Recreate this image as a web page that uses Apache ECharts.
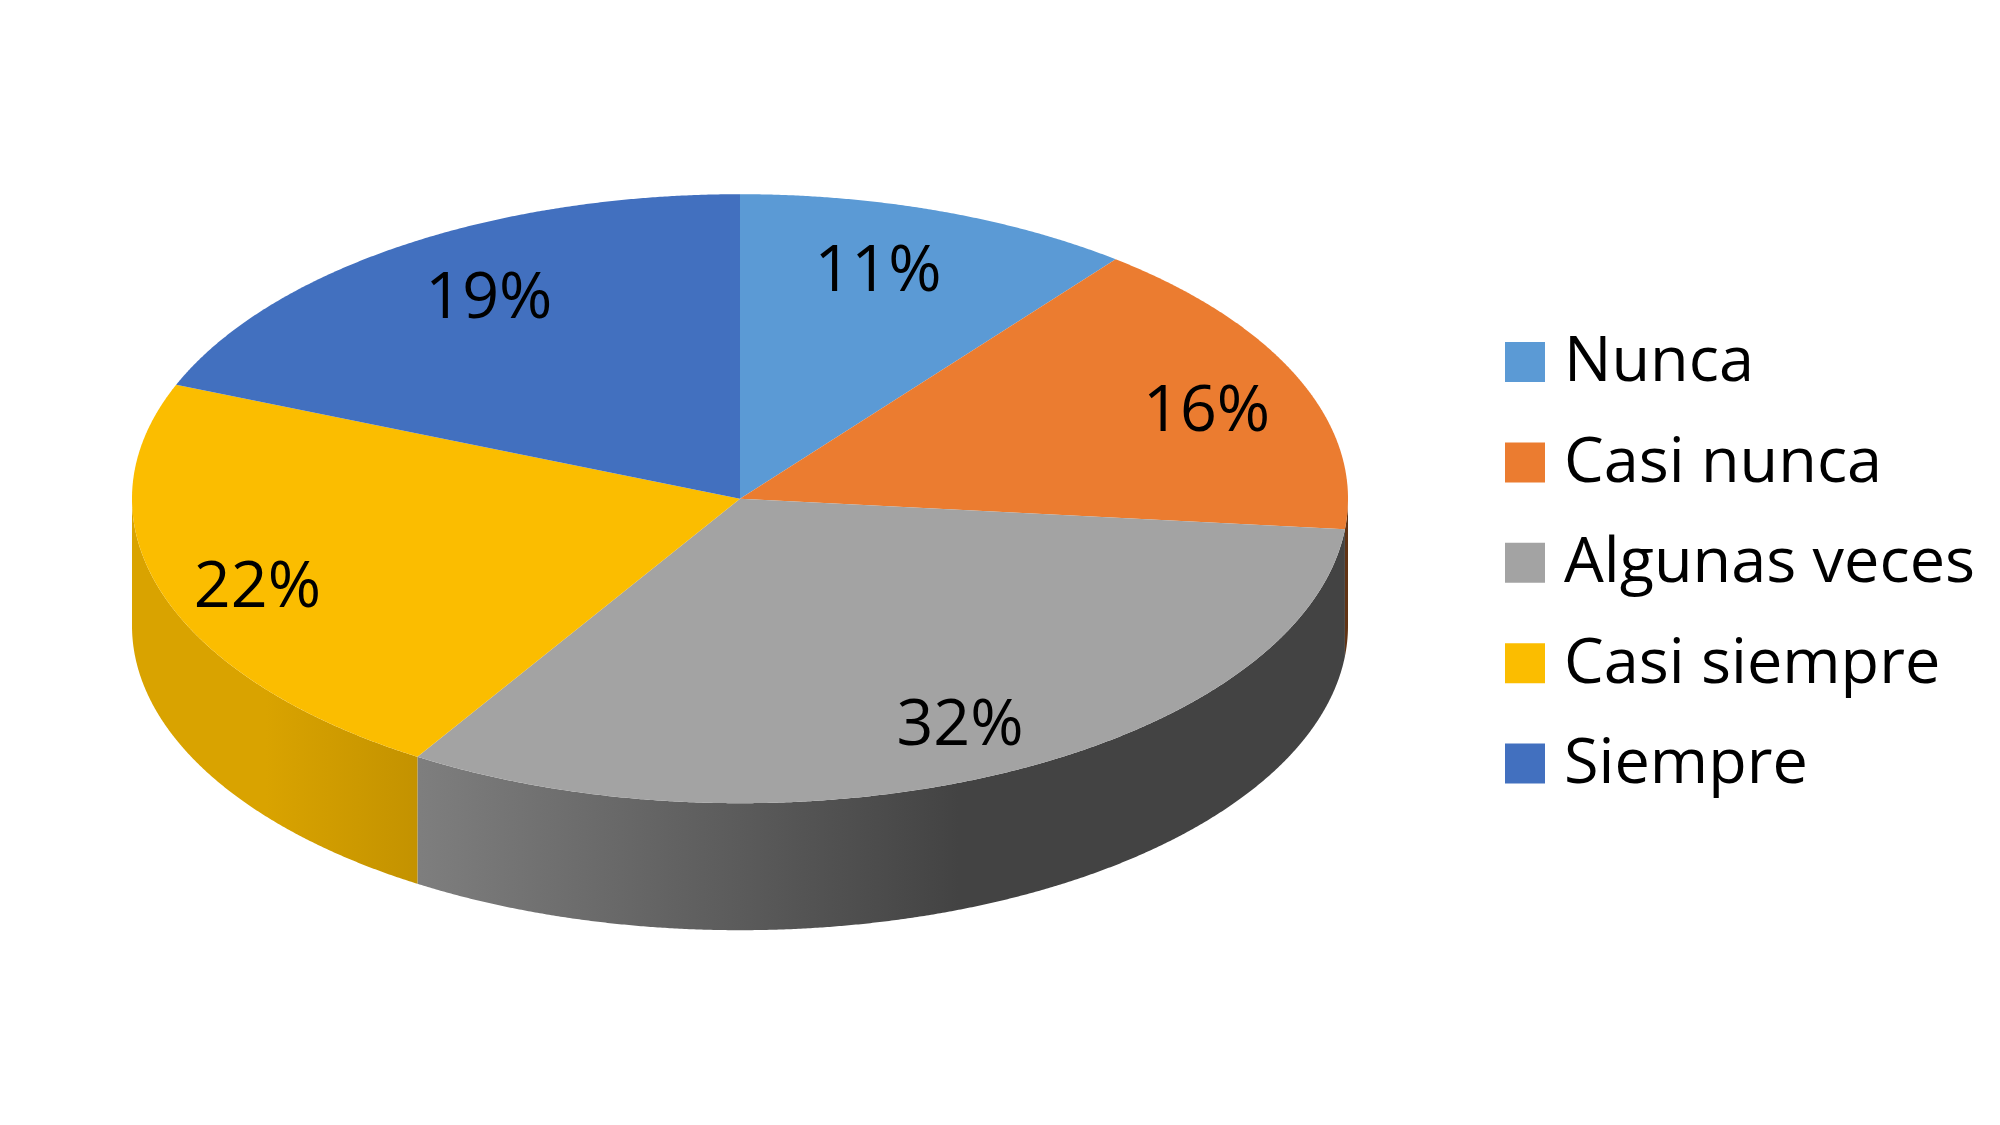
<!DOCTYPE html>
<html>
<head>
<meta charset="utf-8">
<style>html,body{margin:0;padding:0;background:#fff}#chart{width:2000px;height:1125px}</style>
<script src="https://cdn.jsdelivr.net/npm/echarts@6/dist/echarts.min.js"></script>
</head>
<body>
<div id="chart"></div>
<script>
const categories = ['Nunca', 'Casi nunca', 'Algunas veces', 'Casi siempre', 'Siempre'];
const values = [10.6, 16.0, 32.3, 22.2, 18.9];
const colors = ['#5B9AD5', '#EB7C30', '#A3A3A3', '#FBBD00', '#4270BF'];

// layout of the tilted disc
const CX = 740, CY = 498.7, RX = 608, RY = 304.5, DEPTH = 127;
const FONT = '"Open Sans", "Noto Sans", sans-serif';
const LABEL_SIZE = 64.5;
const LEGEND_SIZE = 63;
const LABEL_RADIUS = 0.8;
const labelNudge = [[-21, 4], [19, 9], [6, 9], [-20, 15], [21, 3]];
// side-wall shading: [offset across the disc, brightness]
const shade = [[0, 0.865], [0.11, 0.865], [0.237, 0.775], [0.68, 0.41], [1, 0.41]];

const total = values.reduce((a, b) => a + b, 0);
function ang(i) {
  let s = 0;
  for (let k = 0; k < i; k++) s += values[k];
  return s / total * Math.PI * 2;
}
function rim(t, dy) {
  return [CX + RX * Math.sin(t), CY - RY * Math.cos(t) + (dy || 0)];
}
function arc(a, b, dy) {
  const n = Math.max(2, Math.ceil(Math.abs(b - a) / 0.004));
  const pts = [];
  for (let k = 0; k <= n; k++) pts.push(rim(a + (b - a) * k / n, dy));
  return pts;
}
function dim(hex, f) {
  const n = parseInt(hex.slice(1), 16);
  const c = [n >> 16 & 255, n >> 8 & 255, n & 255].map(v => Math.round(v * f));
  return 'rgb(' + c.join(',') + ')';
}
function renderSlice(params) {
  const i = params.seriesIndex;
  const a = ang(i), b = ang(i + 1);
  const color = colors[i];
  const children = [];
  const lo = Math.max(a, Math.PI / 2), hi = Math.min(b, Math.PI * 1.5);
  if (hi > lo) {
    const top = arc(lo, hi, 0);
    const bottom = arc(hi, lo, DEPTH);
    children.push({
      type: 'polygon',
      shape: { points: top.concat(bottom) },
      style: {
        fill: new echarts.graphic.LinearGradient(CX - RX, 0, CX + RX, 0,
          shade.map(s => ({ offset: s[0], color: dim(color, s[1]) })), true)
      }
    });
  }
  children.push({
    type: 'polygon',
    shape: { points: [[CX, CY]].concat(arc(a, b, 0)) },
    style: { fill: color }
  });
  const mid = (a + b) / 2;
  children.push({
    type: 'text',
    z2: 10,
    style: {
      text: Math.round(values[i] / total * 100) + '%',
      x: CX + RX * LABEL_RADIUS * Math.sin(mid) + labelNudge[i][0],
      y: CY - RY * LABEL_RADIUS * Math.cos(mid) + labelNudge[i][1],
      align: 'center',
      verticalAlign: 'middle',
      fill: '#000',
      font: LABEL_SIZE + 'px ' + FONT
    }
  });
  return { type: 'group', children };
}

const chart = echarts.init(document.getElementById('chart'), null, { renderer: 'canvas' });
chart.setOption({
  animation: false,
  backgroundColor: '#fff',
  legend: {
    orient: 'vertical',
    left: 1505,
    top: 332,
    padding: 0,
    itemWidth: 40,
    itemHeight: 40,
    itemGap: 34.4,
    icon: 'rect',
    selectedMode: false,
    data: categories,
    formatter: '{t|{name}}',
    textStyle: {
      rich: {
        t: {
          fontFamily: FONT, fontSize: LEGEND_SIZE, color: '#000',
          lineHeight: 72, verticalAlign: 'bottom', padding: [0, 0, 3, 14]
        }
      }
    }
  },
  series: categories.map((name, i) => ({
    type: 'custom',
    name,
    coordinateSystem: 'none',
    silent: true,
    itemStyle: { color: colors[i] },
    renderItem: renderSlice,
    data: [[values[i]]]
  }))
});
</script>
</body>
</html>
